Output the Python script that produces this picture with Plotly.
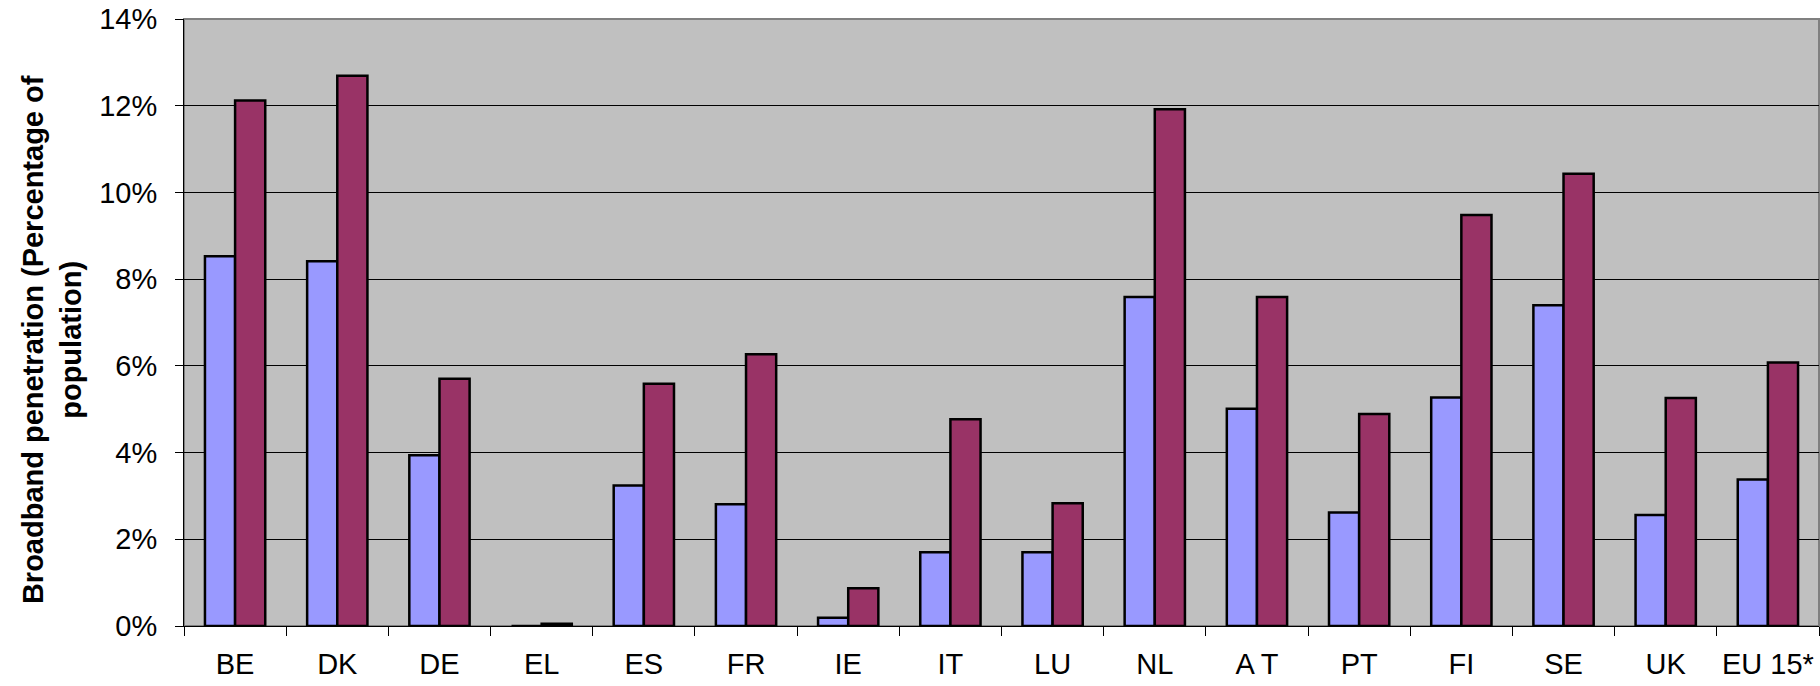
import plotly.graph_objects as go

countries = ["BE", "DK", "DE", "EL", "ES", "FR", "IE", "IT", "LU", "NL", "A T", "PT", "FI", "SE", "UK", "EU 15*"]
series_a = [8.53, 8.41, 3.94, 0.0, 3.24, 2.81, 0.19, 1.70, 1.70, 7.59, 5.01, 2.62, 5.27, 7.40, 2.56, 3.38]
series_b = [12.12, 12.69, 5.70, 0.05, 5.59, 6.27, 0.87, 4.77, 2.83, 11.92, 7.59, 4.89, 9.48, 10.43, 5.26, 6.08]
y_ticks = [0, 0.02, 0.04, 0.06, 0.08, 0.10, 0.12, 0.14]
y_title = "Broadband penetration (Percentage of<br>population)"

FONT = "Liberation Sans, Arial, sans-serif"

fig = go.Figure()
fig.add_trace(go.Bar(
    x=countries, y=[v / 100 for v in series_a], name="2002",
    marker=dict(color="#9999FF", line=dict(color="black", width=2.5)),
))
fig.add_trace(go.Bar(
    x=countries, y=[v / 100 for v in series_b], name="2003",
    marker=dict(color="#993366", line=dict(color="black", width=2.5)),
))

fig.update_layout(
    width=1820, height=686,
    margin=dict(l=184, r=1, t=19, b=60),
    paper_bgcolor="white", plot_bgcolor="#C0C0C0",
    barmode="group", bargap=0.41, bargroupgap=0,
    showlegend=False,
    font=dict(family=FONT, size=29, color="black"),
)
fig.update_xaxes(
    type="category", tickson="boundaries", ticks="outside", ticklen=9,
    tickcolor="black", tickwidth=1, showgrid=False,
    showline=True, linecolor="black", linewidth=1,
    tickfont=dict(size=29), ticklabelstandoff=12,
)
fig.update_yaxes(
    range=[0, 0.14], tickvals=y_ticks, tickformat=".0%",
    ticks="outside", ticklen=8, tickcolor="black", tickwidth=1,
    showgrid=True, gridcolor="black", gridwidth=1,
    showline=True, linecolor="black", linewidth=1,
    zeroline=False, tickfont=dict(size=29), ticklabelstandoff=12,
)
# plot-area border (grey) on top/right
fig.add_shape(type="rect", xref="paper", yref="paper", x0=0, x1=1, y0=0, y1=1,
              line=dict(color="#808080", width=2), layer="below")
fig.add_annotation(
    text="<b>" + y_title.replace("<br>", "</b><br><b>") + "</b>",
    xref="paper", yref="paper", x=0, y=0.471, xshift=-132, xanchor="center", yanchor="middle",
    textangle=-90, showarrow=False, align="center",
    font=dict(family=FONT, size=29, color="black"),
)

fig.write_html("out.html")
